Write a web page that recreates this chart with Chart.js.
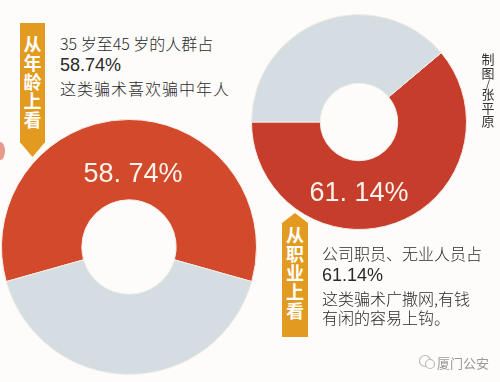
<!DOCTYPE html>
<html><head><meta charset="utf-8">
<script src="https://cdn.jsdelivr.net/npm/chart.js@4/dist/chart.umd.min.js"></script>
<style>
html,body{margin:0;padding:0;background:#fdfcfa;}
#wrap{position:relative;width:500px;height:382px;overflow:hidden;background:#fdfcfa;font-family:"Noto Sans CJK SC","Noto Sans",sans-serif;}
canvas{position:absolute;}
.t{position:absolute;white-space:nowrap;color:#2a2a2a;font-size:16px;line-height:20px;letter-spacing:0;font-weight:300;}
.num{font-family:"Liberation Sans",Arial,sans-serif;font-size:18px;letter-spacing:0;font-weight:400;}
.big{position:absolute;white-space:nowrap;color:#fbf3ec;font-family:"Liberation Sans",Arial,sans-serif;font-size:27px;line-height:30px;transform:translate(-50%,-50%);}
.tag{position:absolute;background:#e39a20;color:#fff;font-weight:bold;font-size:18px;line-height:19px;text-align:center;}
.tag span{display:block;}
.credit{position:absolute;left:481px;top:52px;width:14px;font-size:13px;line-height:13.5px;color:#333;text-align:center;}
.wm{position:absolute;left:437px;top:353px;font-size:13px;color:#999;white-space:nowrap;}
</style></head>
<body><div id="wrap">
<canvas id="c1" width="256" height="256" style="left:1px;top:119px"></canvas>
<canvas id="c2" width="216" height="216" style="left:251px;top:14px"></canvas>
<div style="position:absolute;left:-4px;top:142px;width:9px;height:18px;border-radius:50%;background:#e79a8c"></div>
<div class="tag" id="tag1" style="left:20px;top:23px;width:25px;height:134px;padding-top:11px;box-sizing:border-box;clip-path:polygon(0 0,100% 0,100% 89%,50% 100%,0 89%);"></div>
<div class="tag" id="tag2" style="left:282px;top:213px;width:26px;height:124px;padding-top:12px;box-sizing:border-box;clip-path:polygon(50% 0,100% 8%,100% 100%,0 100%,0 8%);"></div>
<div class="t" id="a1" style="left:60px;top:33px"></div>
<div class="t num" id="a2" style="left:60px;top:55px"></div>
<div class="t" id="a3" style="left:60px;top:78px;letter-spacing:1px"></div>
<div class="t" id="b1" style="left:322px;top:243px"></div>
<div class="t num" id="b2" style="left:322px;top:265px"></div>
<div class="t" id="b3" style="left:322px;top:288px"></div>
<div class="t" id="b4" style="left:322px;top:307px"></div>
<div class="big" id="p1" style="left:133px;top:173px"></div>
<div class="big" id="p2" style="left:359px;top:192px"></div>
<div class="credit" id="credit"></div>
<svg style="position:absolute;left:418px;top:354px" width="18" height="16"><circle cx="7" cy="7" r="5.5" fill="none" stroke="#bbb" stroke-width="1.2"/><circle cx="12" cy="10" r="4.5" fill="#fdfcfa" stroke="#bbb" stroke-width="1.2"/></svg>
<div class="wm" id="wm"></div>
</div>
<script>
const ageCategories = ['35岁至45岁人群', '其他'];
const ageValues = [58.74, 41.26];
const jobCategories = ['公司职员、无业人员', '其他'];
const jobValues = [61.14, 38.86];
const ageColors = ['#d24a2b', '#d4dde1'];
const jobColors = ['#c63d2b', '#d4dde1'];
const tagAge = '从年龄上看';
const tagJob = '从职业上看';
const ageLines = ['35 岁至45 岁的人群占', '这类骗术喜欢骗中年人'];
const jobLines = ['公司职员、无业人员占', '这类骗术广撒网,有钱', '有闲的容易上钩。'];
const creditText = '制图/张平原';
const watermark = '厦门公安';

function pct(v){ return v.toFixed(2) + '%'; }
function bigPct(v){ const s = v.toFixed(2).split('.'); return s[0] + '. ' + s[1] + '%'; }

document.getElementById('a1').textContent = ageLines[0];
document.getElementById('a2').textContent = pct(ageValues[0]);
document.getElementById('a3').textContent = ageLines[1];
document.getElementById('b1').textContent = jobLines[0];
document.getElementById('b2').textContent = pct(jobValues[0]);
document.getElementById('b3').textContent = jobLines[1];
document.getElementById('b4').textContent = jobLines[2];
document.getElementById('p1').textContent = bigPct(ageValues[0]);
document.getElementById('p2').textContent = bigPct(jobValues[0]);
document.getElementById('tag1').innerHTML = tagAge.split('').map(c=>'<span>'+c+'</span>').join('');
document.getElementById('tag2').innerHTML = tagJob.split('').map(c=>'<span>'+c+'</span>').join('');
document.getElementById('credit').innerHTML = creditText.split('').map(c=>'<div'+(c==='/'?' style="height:8px;line-height:8px;font-size:11px"':'')+'>'+c+'</div>').join('');
document.getElementById('wm').textContent = watermark;

function donut(id, labels, values, colors, rotation, cutout){
  new Chart(document.getElementById(id), {
    type: 'doughnut',
    data: { labels: labels, datasets: [{ data: values, backgroundColor: colors, borderWidth: 1, borderColor: '#f3ece6' }] },
    options: {
      responsive: false, animation: false, rotation: rotation, cutout: cutout,
      layout: { padding: 0 },
      plugins: { legend: { display: false }, tooltip: { enabled: false } }
    }
  });
}
donut('c1', ageCategories, ageValues, ageColors, -ageValues[0] * 3.6 / 2, '37%');
donut('c2', jobCategories, jobValues, jobColors, 270 - jobValues[0] * 3.6, '36%');
</script>
</body></html>
